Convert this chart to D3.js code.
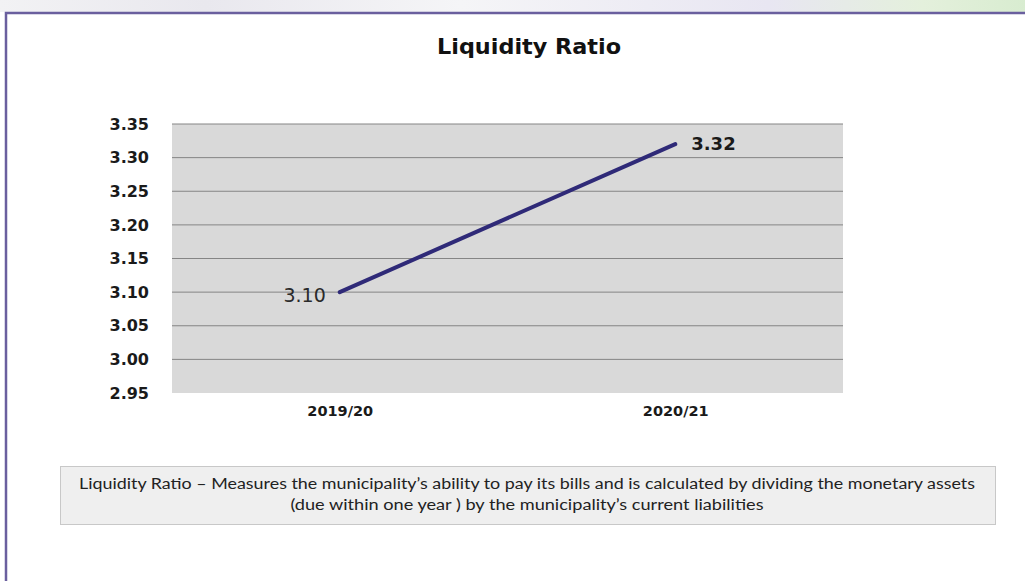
<!DOCTYPE html>
<html>
<head>
<meta charset="utf-8">
<script src="https://cdn.jsdelivr.net/npm/d3@7"></script>
<style>
  html, body { margin: 0; padding: 0; background: #ffffff; }
  svg { display: block; }
</style>
</head>
<body>
<svg id="chart" width="1025" height="581"></svg>
<script>
// Liquidity ratio by financial year
const years = ["2019/20", "2020/21"];
const ratios = [3.10, 3.32];
const valueLabels = ["3.10", "3.32"];
const yTicks = [2.95, 3.00, 3.05, 3.10, 3.15, 3.20, 3.25, 3.30, 3.35];
const chartTitle = "Liquidity Ratio";
const noteLines = [
  "Liquidity Ratio \u2013 Measures the municipality\u2019s ability to pay its bills and is calculated by dividing the monetary assets",
  "(due within one year ) by the municipality\u2019s current liabilities"
];

const svg = d3.select("#chart");
const W = 1025, H = 581;
const axisFont = "'DejaVu Sans', Verdana, sans-serif";

// Header strip above the frame
const defs = svg.append("defs");
const grad = defs.append("linearGradient").attr("id", "strip").attr("x1", 0).attr("x2", 1);
grad.append("stop").attr("offset", "0%").attr("stop-color", "#f2f2f4");
grad.append("stop").attr("offset", "20%").attr("stop-color", "#e9e8ee");
grad.append("stop").attr("offset", "45%").attr("stop-color", "#f5f5f7");
grad.append("stop").attr("offset", "75%").attr("stop-color", "#e8e6f2");
grad.append("stop").attr("offset", "90%").attr("stop-color", "#e4f0dc");
grad.append("stop").attr("offset", "100%").attr("stop-color", "#d8ecd0");
svg.append("rect").attr("x", 0).attr("y", 0).attr("width", W).attr("height", 12)
  .attr("fill", "url(#strip)");

// Frame (top and left edges)
svg.append("path")
  .attr("d", `M6,${H} L6,13 L${W},13`)
  .attr("fill", "none").attr("stroke", "#6a5f9e").attr("stroke-width", 2.5);

// Title
svg.append("text")
  .attr("x", 529).attr("y", 54)
  .attr("text-anchor", "middle")
  .attr("font-family", axisFont)
  .attr("font-weight", "bold").attr("font-size", 21)
  .attr("textLength", 184).attr("lengthAdjust", "spacingAndGlyphs")
  .attr("fill", "#111")
  .text(chartTitle);

// Plot area
const plot = { left: 172, right: 843, top: 124, bottom: 393 };

const x = d3.scalePoint().domain(years)
  .range([plot.left, plot.right]).padding(0.5);
const y = d3.scaleLinear().domain([2.95, 3.35])
  .range([plot.bottom, plot.top]);

svg.append("rect")
  .attr("x", plot.left).attr("y", plot.top)
  .attr("width", plot.right - plot.left).attr("height", plot.bottom - plot.top)
  .attr("fill", "#d9d9d9");

// Gridlines
svg.append("g")
  .selectAll("line")
  .data(yTicks.filter(t => t > 2.95))
  .join("line")
  .attr("x1", plot.left).attr("x2", plot.right)
  .attr("y1", d => y(d)).attr("y2", d => y(d))
  .attr("stroke", "#858585").attr("stroke-width", 1);

// Y axis labels
const yAxis = d3.axisLeft(y).tickValues(yTicks).tickFormat(d3.format(".2f"))
  .tickSize(0).tickPadding(23);
const gy = svg.append("g").attr("transform", `translate(${plot.left},0)`).call(yAxis);
gy.select(".domain").remove();
gy.selectAll("text")
  .attr("font-family", axisFont)
  .attr("font-weight", "bold").attr("font-size", 16)
  .attr("fill", "#1a1a1a");

// X axis labels
const xAxis = d3.axisBottom(x).tickSize(0).tickPadding(13);
const gx = svg.append("g").attr("transform", `translate(0,${plot.bottom})`).call(xAxis);
gx.select(".domain").remove();
gx.selectAll("text")
  .attr("font-family", axisFont)
  .attr("font-weight", "bold").attr("font-size", 14.5)
  .attr("fill", "#1a1a1a");

// Series line
const series = years.map((yr, i) => ({ year: yr, value: ratios[i], label: valueLabels[i] }));
svg.append("path")
  .datum(series)
  .attr("d", d3.line().x(d => x(d.year)).y(d => y(d.value)))
  .attr("fill", "none")
  .attr("stroke", "#2f2a78")
  .attr("stroke-width", 4)
  .attr("stroke-linecap", "round");

// Data labels
svg.append("g")
  .selectAll("text")
  .data(series)
  .join("text")
  .attr("x", (d, i) => x(d.year) + (i === 0 ? -14 : 16))
  .attr("y", (d, i) => y(d.value) + (i === 0 ? 10 : 6))
  .attr("text-anchor", (d, i) => i === 0 ? "end" : "start")
  .attr("font-family", axisFont)
  .attr("font-size", (d, i) => i === 0 ? 19 : 18)
  .attr("font-weight", (d, i) => i === 0 ? "normal" : "bold")
  .attr("fill", (d, i) => i === 0 ? "#2a2a2a" : "#1a1a1a")
  .text(d => d.label);

// Explanatory note box
svg.append("rect")
  .attr("x", 60.5).attr("y", 466.5).attr("width", 935).attr("height", 58)
  .attr("fill", "#efefef").attr("stroke", "#c8c8c8").attr("stroke-width", 1);

const noteWidths = [896, 473];
svg.append("g")
  .selectAll("text")
  .data(noteLines)
  .join("text")
  .attr("x", 527)
  .attr("y", (d, i) => 489 + i * 21)
  .attr("text-anchor", "middle")
  .attr("font-family", "Lato, 'Open Sans', sans-serif")
  .attr("font-size", 15.5)
  .attr("textLength", (d, i) => noteWidths[i])
  .attr("lengthAdjust", "spacingAndGlyphs")
  .attr("fill", "#222")
  .text(d => d);
</script>
</body>
</html>
